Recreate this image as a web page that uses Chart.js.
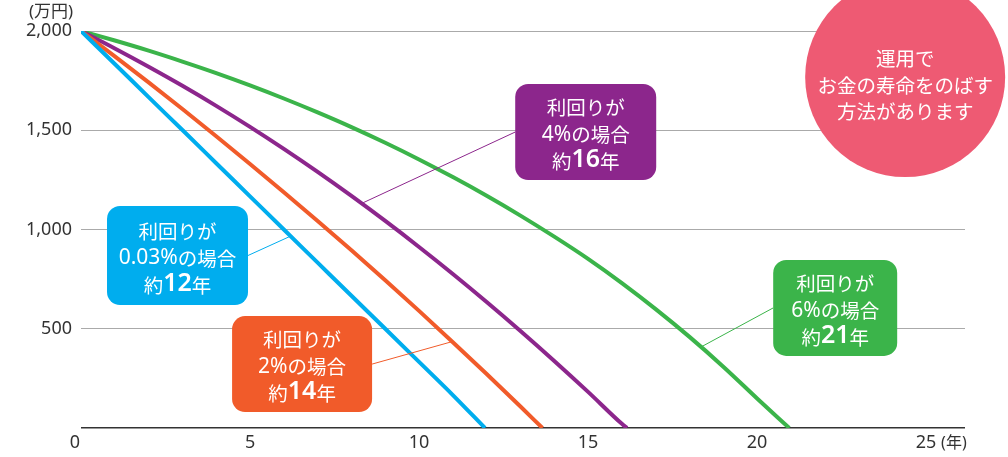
<!DOCTYPE html>
<html lang="ja">
<head>
<meta charset="utf-8">
<title>運用でお金の寿命をのばす</title>
<script src="https://cdn.jsdelivr.net/npm/chart.js@4/dist/chart.umd.min.js"></script>
<style>
  html, body { margin: 0; padding: 0; background: #fff; }
  canvas { display: block; }
</style>
</head>
<body>
<canvas id="lifeChart" width="1008" height="457"></canvas>
<script>
// 2,000万円を取り崩したときの残高（万円）、利回り別
const yearTicks = [0, 5, 10, 15, 20, 25];
const valueTicks = [0, 500, 1000, 1500, 2000];

const years003 = [0, 1, 2, 3, 4, 5, 6, 7, 8, 9, 10, 11, 11.95];
const balance003 = [2000, 1834, 1667, 1501, 1334, 1167, 1000, 833, 666, 500, 333, 166, 0];

const years2 = [0, 1, 2, 3, 4, 5, 6, 7, 8, 9, 10, 11, 12, 13, 13.65];
const balance2 = [2000, 1872, 1741, 1607, 1470, 1330, 1188, 1043, 895, 744, 590, 432, 272, 108, 0];

const years4 = [0, 1, 2, 3, 4, 5, 6, 7, 8, 9, 10, 11, 12, 13, 14, 15, 16, 16.15];
const balance4 = [2000, 1912, 1820, 1724, 1623, 1517, 1406, 1290, 1169, 1043, 912, 776, 635, 489, 338, 182, 21, 0];

const years6 = [0, 1, 2, 3, 4, 5, 6, 7, 8, 9, 10, 11, 12, 13, 14, 15, 16, 17, 18, 19, 20, 20.95];
const balance6 = [2000, 1952, 1901, 1846, 1788, 1726, 1660, 1590, 1516, 1437, 1353, 1264, 1170, 1070, 964, 852, 730, 599, 459, 309, 149, 0];

const BLUE = '#00adee';
const ORANGE = '#f15b2a';
const PURPLE = '#8c268c';
const GREEN = '#3bb44a';
const PINK = '#ee5a73';

const JP_FONT = '"Noto Sans", "Noto Sans CJK JP", sans-serif';
const TICK_FONT = { size: 18, family: '"Noto Sans", sans-serif' };

// 吹き出しの中身（位置は軸の値で指定）
const notes = [
  { rate: '0.03%', span: '12', color: BLUE, cx: 2.855, cy: 869, w: 141, h: 99, side: 'right', tipYear: 6.2, xs: years003, ys: balance003 },
  { rate: '2%', span: '14', color: ORANGE, cx: 6.54, cy: 322, w: 140, h: 96, side: 'right', tipYear: 10.98, xs: years2, ys: balance2 },
  { rate: '4%', span: '16', color: PURPLE, cx: 14.93, cy: 1491, w: 141, h: 96, side: 'left', tipYear: 8.3, xs: years4, ys: balance4 },
  { rate: '6%', span: '21', color: GREEN, cx: 22.31, cy: 605, w: 124, h: 96, side: 'left', tipYear: 18.34, xs: years6, ys: balance6 }
];

const badge = { cx: 24.38, cy: 1768, r: 100, lines: ['運用で', 'お金の寿命をのばす', '方法があります'] };

function toPoints(xs, ys) {
  return xs.map((x, i) => ({ x: x, y: ys[i] }));
}

function valueAt(xs, ys, x) {
  for (let i = 1; i < xs.length; i++) {
    if (x <= xs[i]) {
      const t = (x - xs[i - 1]) / (xs[i] - xs[i - 1]);
      return ys[i - 1] + (ys[i] - ys[i - 1]) * t;
    }
  }
  return ys[ys.length - 1];
}

// 文字の大きさが混ざる1行を中央揃えで描く
function drawMixed(ctx, parts, cx, y) {
  let total = 0;
  parts.forEach(p => {
    ctx.font = p.font;
    p.w = ctx.measureText(p.text).width;
    total += p.w;
  });
  let x = cx - total / 2;
  ctx.textAlign = 'left';
  parts.forEach(p => {
    ctx.font = p.font;
    ctx.fillText(p.text, x, y + (p.dy || 0));
    x += p.w;
  });
}

const decorations = {
  id: 'decorations',
  afterDatasetsDraw(chart) {
    const ctx = chart.ctx;
    const xs = chart.scales.x;
    const ys = chart.scales.y;
    const area = chart.chartArea;

    ctx.save();
    // 軸の単位と原点の 0
    ctx.fillStyle = '#333';
    ctx.textBaseline = 'middle';
    ctx.textAlign = 'center';
    ctx.font = '17px ' + JP_FONT;
    ctx.fillText('(万円)', 51, area.top - 19);
    ctx.font = TICK_FONT.size + 'px ' + TICK_FONT.family;
    ctx.fillText('0', xs.getPixelForValue(0) - 6, area.bottom + 15);
    ctx.textAlign = 'left';
    ctx.font = '16px ' + JP_FONT;
    ctx.fillText('(年)', xs.getPixelForValue(25) + 15, area.bottom + 15);

    // 引き出し線
    notes.forEach(n => {
      const bx = xs.getPixelForValue(n.cx);
      const by = ys.getPixelForValue(n.cy);
      const sx = n.side === 'right' ? bx + n.w / 2 : bx - n.w / 2;
      const tx = xs.getPixelForValue(n.tipYear);
      const ty = ys.getPixelForValue(valueAt(n.xs, n.ys, n.tipYear));
      ctx.strokeStyle = n.color;
      ctx.lineWidth = 1;
      ctx.beginPath();
      ctx.moveTo(sx, by);
      ctx.lineTo(tx, ty);
      ctx.stroke();
    });

    // 吹き出し
    const jp = '19.5px "Noto Sans CJK JP", sans-serif';
    const latin = '21px "Noto Sans", sans-serif';
    const big = '600 25px "Noto Sans", sans-serif';
    notes.forEach(n => {
      const bx = xs.getPixelForValue(n.cx);
      const by = ys.getPixelForValue(n.cy);
      ctx.fillStyle = n.color;
      ctx.beginPath();
      ctx.roundRect(bx - n.w / 2, by - n.h / 2, n.w, n.h, 13);
      ctx.fill();

      ctx.fillStyle = '#fff';
      ctx.textBaseline = 'middle';
      ctx.textAlign = 'center';
      ctx.font = jp;
      ctx.fillText('利回りが', bx, by - 24);
      drawMixed(ctx, [
        { text: n.rate, font: latin },
        { text: 'の場合', font: jp }
      ], bx, by + 3);
      drawMixed(ctx, [
        { text: '約', font: jp, dy: 2 },
        { text: n.span, font: big },
        { text: '年', font: jp, dy: 2 }
      ], bx, by + 28);
    });

    // 右上の丸
    const px = xs.getPixelForValue(badge.cx);
    const py = ys.getPixelForValue(badge.cy);
    ctx.fillStyle = PINK;
    ctx.beginPath();
    ctx.arc(px, py, badge.r, 0, Math.PI * 2);
    ctx.fill();
    ctx.fillStyle = '#fff';
    ctx.textAlign = 'center';
    ctx.textBaseline = 'middle';
    ctx.font = jp;
    badge.lines.forEach((t, i) => ctx.fillText(t, px, py - 18 + i * 26.5));
    ctx.restore();
  }
};

const lineStyle = {
  borderWidth: 4,
  pointRadius: 0,
  fill: false,
  cubicInterpolationMode: 'monotone'
};

new Chart(document.getElementById('lifeChart'), {
  type: 'line',
  data: {
    datasets: [
      { label: '0.03%', data: toPoints(years003, balance003), borderColor: BLUE, ...lineStyle },
      { label: '2%', data: toPoints(years2, balance2), borderColor: ORANGE, ...lineStyle },
      { label: '4%', data: toPoints(years4, balance4), borderColor: PURPLE, ...lineStyle },
      { label: '6%', data: toPoints(years6, balance6), borderColor: GREEN, ...lineStyle }
    ]
  },
  options: {
    responsive: false,
    animation: false,
    layout: { padding: { top: 31, right: 43, bottom: 0, left: 0 } },
    plugins: {
      legend: { display: false },
      tooltip: { enabled: false }
    },
    scales: {
      x: {
        type: 'linear',
        min: 0,
        max: 26.15,
        afterBuildTicks: axis => { axis.ticks = yearTicks.map(v => ({ value: v })); },
        afterFit: axis => { axis.height = 29; },
        grid: { display: false, drawTicks: false },
        border: { display: false },
        ticks: {
          padding: 4,
          color: '#333',
          font: TICK_FONT,
          maxRotation: 0,
          callback: v => (v === 0 ? '' : String(v))
        }
      },
      y: {
        min: 0,
        max: 2000,
        afterBuildTicks: axis => { axis.ticks = valueTicks.map(v => ({ value: v })); },
        afterFit: axis => { axis.width = 81; },
        grid: {
          drawTicks: false,
          color: c => (c.tick && c.tick.value === 0 ? '#333' : '#aaaaaa'),
          lineWidth: c => (c.tick && c.tick.value === 0 ? 1.5 : 1)
        },
        border: { display: false },
        ticks: {
          padding: 9,
          color: '#333',
          font: TICK_FONT,
          callback: v => (v === 0 ? '' : v.toLocaleString('en-US'))
        }
      }
    }
  },
  plugins: [decorations]
});
</script>
</body>
</html>
